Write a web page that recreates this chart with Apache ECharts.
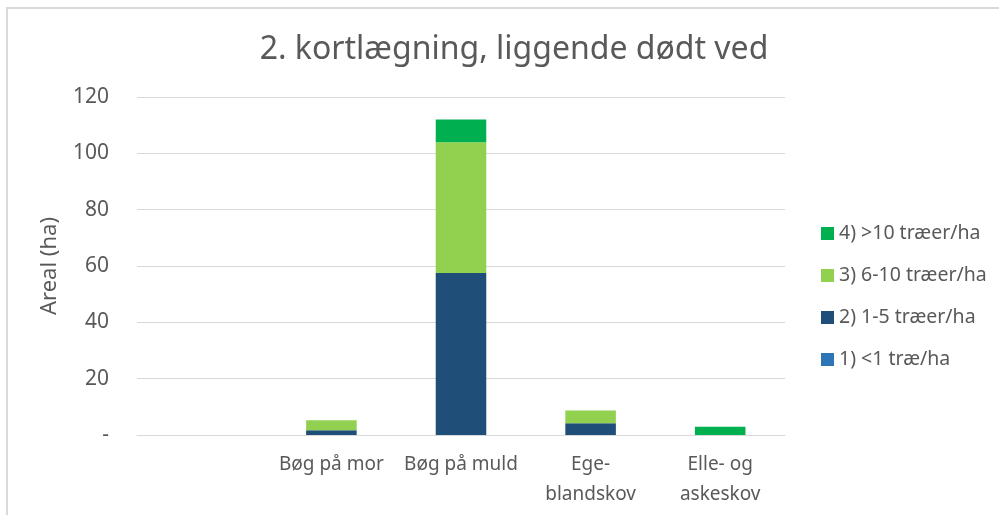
<!DOCTYPE html>
<html>
<head>
<meta charset="utf-8">
<script src="https://cdn.jsdelivr.net/npm/echarts@6/dist/echarts.min.js"></script>
<style>
  html, body { margin: 0; padding: 0; background: #fff; }
  #chart { width: 999px; height: 515px; }
</style>
</head>
<body>
<div id="chart"></div>
<script>
// categories (first slot is empty in the original)
const categories = ['', 'Bøg på mor', 'Bøg på muld', 'Ege-\nblandskov', 'Elle- og\naskeskov'];
const seriesNames = ['1) <1 træ/ha', '2) 1-5 træer/ha', '3) 6-10 træer/ha', '4) >10 træer/ha'];
const seriesColors = ['#2E75B6', '#1F4E79', '#92D050', '#00B050'];
// areal (ha) per class
const lessThan1 = [0, 0, 0, 0, 0];
const from1to5 = [0, 1.7, 57.5, 4.2, 0];
const from6to10 = [0, 3.5, 46.4, 4.5, 0];
const over10 = [0, 0, 8.1, 0, 2.9];
const yTicks = [0, 20, 40, 60, 80, 100, 120];

const seriesValues = [lessThan1, from1to5, from6to10, over10];
const font = '"Noto Sans", "Open Sans", sans-serif';
const grey = '#595959';

const chart = echarts.init(document.getElementById('chart'));

chart.setOption({
  animation: false,
  textStyle: { fontFamily: font },
  title: {
    text: '2. kortlægning, liggende dødt ved',
    left: 509,
    textAlign: 'center',
    top: 29,
    textStyle: { fontFamily: font, fontSize: 32, fontWeight: 'normal', color: grey }
  },
  graphic: [{
    type: 'rect',
    shape: { x: 7, y: 8, width: 1100, height: 600 },
    style: { fill: 'none', stroke: '#d9d9d9', lineWidth: 2 },
    silent: true
  }],
  legend: {
    orient: 'vertical',
    left: 816,
    top: 218,
    itemWidth: 13,
    itemHeight: 13,
    itemGap: 21,
    icon: 'rect',
    data: seriesNames.slice().reverse(),
    textStyle: { fontFamily: font, fontSize: 19.5, color: grey, lineHeight: 21 }
  },
  grid: { left: 137, right: 214, top: 97, bottom: 80 },
  xAxis: {
    type: 'category',
    data: categories,
    axisLine: { lineStyle: { color: '#d9d9d9', width: 1 } },
    axisTick: { show: false },
    axisLabel: { color: grey, fontSize: 19, lineHeight: 30, margin: 15, interval: 0 }
  },
  yAxis: {
    type: 'value',
    min: yTicks[0],
    max: yTicks[yTicks.length - 1],
    interval: 20,
    name: 'Areal (ha)',
    nameLocation: 'middle',
    nameGap: 76,
    nameRotate: 90,
    nameTextStyle: { color: grey, fontSize: 22 },
    axisLine: { show: false },
    axisTick: { show: false },
    splitLine: { lineStyle: { color: '#d9d9d9', width: 1 } },
    axisLabel: {
      color: grey,
      fontSize: 21,
      margin: 28,
      formatter: v => (v === 0 ? '-' : String(v))
    }
  },
  series: seriesNames.map((name, i) => ({
    name,
    type: 'bar',
    stack: 'total',
    barWidth: '39%',
    data: seriesValues[i],
    itemStyle: { color: seriesColors[i] }
  }))
});
</script>
</body>
</html>
